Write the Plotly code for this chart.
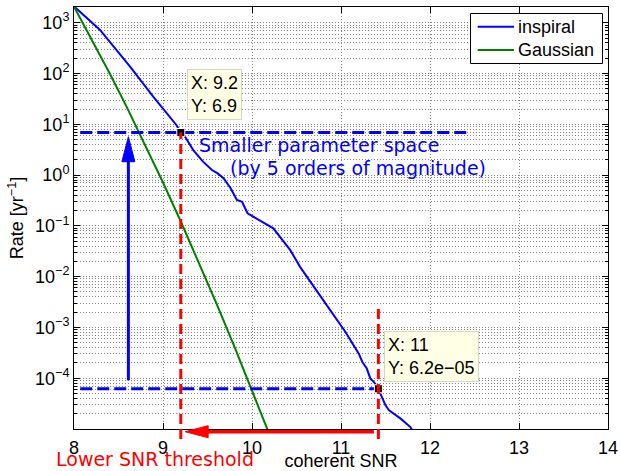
import math
import plotly.graph_objects as go

# ---- data -----------------------------------------------------------------
snr_inspiral = [8.00, 8.29, 8.63, 8.89, 9.15, 9.20, 9.25, 9.34, 9.45, 9.55,
                9.61, 9.68, 9.76, 9.83, 9.89, 9.90, 9.95, 10.24, 10.43, 10.54,
                10.80, 10.88, 11.05, 11.20, 11.24, 11.29, 11.33, 11.37, 11.42,
                11.46, 11.50, 11.54, 11.67, 11.78, 11.81]
rate_inspiral = [2100, 728, 137, 35.2, 9.7, 6.9, 5.6, 3.1, 1.84, 1.26,
                 1.09, 0.865, 0.55, 0.323, 0.299, 0.269, 0.177, 0.0893, 0.0333, 0.0156,
                 3.44e-3, 2.18e-3, 8.15e-4, 3.05e-4, 2.09e-4, 1.55e-4, 9.8e-5, 8.4e-5, 6.2e-5,
                 4.26e-5, 2.92e-5, 2.33e-5, 1.60e-5, 1.09e-5, 8.9e-6]

snr_gauss = [8.0, 8.2, 8.4, 8.6, 8.8, 9.0, 9.2, 9.4, 9.6, 9.8, 10.0, 10.2]
rate_gauss = [2070, 472, 101, 20.6, 3.94, 0.714, 0.122, 0.0197, 2.99e-3, 4.3e-4, 5.83e-5, 7.47e-6]

series_names = ["inspiral", "Gaussian"]

# data-tip points: (coherent SNR, rate)
tip_snr = [9.2, 11.42]
tip_rate = [6.9, 6.2e-5]

# tick labels
x_tick_vals = [8, 9, 10, 11, 12, 13, 14]
x_tick_text = ["8", "9", "10", "11", "12", "13", "14"]
y_tick_vals = [1e-4, 1e-3, 1e-2, 1e-1, 1e0, 1e1, 1e2, 1e3]
y_tick_text = ["10<sup>−4</sup>", "10<sup>−3</sup>", "10<sup>−2</sup>", "10<sup>−1</sup>",
               "10<sup>0</sup>", "10<sup>1</sup>", "10<sup>2</sup>", "10<sup>3</sup>"]

# guide lines / arrows
dash_start_snr = 8.07
upper_dash_end_snr = 12.41
up_arrow_snr = 8.611
up_arrow_tail = 9.1e-5
up_arrow_tip = 5.7
left_arrow_tail_snr = 11.37
left_arrow_tip_snr = 9.249
cut_top_rate = 2.4e-3

# ---- styling --------------------------------------------------------------
W, H = 620, 471
MARGIN = dict(l=74, r=12, t=7, b=42)
X_RANGE = [8, 14]
Y_RANGE = [-5, 3.31]
BLUE = "#0000ff"
GREEN = "#008000"
RED = "#ff0000"
HELV = "Liberation Sans, Arial, Helvetica, sans-serif"
DEJAVU = "DejaVu Sans, sans-serif"
GRID = "#858585"
series_colors = [BLUE, GREEN]

PLOT_W = W - MARGIN["l"] - MARGIN["r"]
PLOT_H = H - MARGIN["t"] - MARGIN["b"]
PX_X = (X_RANGE[1] - X_RANGE[0]) / PLOT_W   # data units of x per pixel
PX_P = 1.0 / PLOT_H                          # paper units of y per pixel


def to_paper(v):
    """Rate value -> paper fraction along the log y axis."""
    return (math.log10(v) - Y_RANGE[0]) / (Y_RANGE[1] - Y_RANGE[0])


def px_x(px):
    """Horizontal page pixel -> paper x."""
    return (px - MARGIN["l"]) / PLOT_W


def px_y(py):
    """Vertical page pixel (from top) -> paper y."""
    return (H - MARGIN["b"] - py) / PLOT_H


def tip_fmt(v):
    return f"{v:.2g}".replace("-", "−")


def head_path(tip_x, tip_y, direction, length_px, half_px):
    """Filled arrowhead triangle in (x data, y paper) coordinates."""
    if direction == "up":
        bx, by = tip_x, tip_y - length_px * PX_P
        return (f"M{tip_x},{tip_y} L{bx - half_px * PX_X},{by} "
                f"L{bx + half_px * PX_X},{by} Z")
    bx, by = tip_x + length_px * PX_X, tip_y
    return (f"M{tip_x},{tip_y} L{bx},{by - half_px * PX_P} "
            f"L{bx},{by + half_px * PX_P} Z")


fig = go.Figure()

fig.add_trace(go.Scatter(x=snr_inspiral, y=rate_inspiral, mode="lines",
                         name=series_names[0], line=dict(color=BLUE, width=2)))
fig.add_trace(go.Scatter(x=snr_gauss, y=rate_gauss, mode="lines",
                         name=series_names[1], line=dict(color=GREEN, width=2)))

# horizontal dashed levels through the two data tips
fig.add_trace(go.Scatter(x=[dash_start_snr, upper_dash_end_snr], y=[tip_rate[0], tip_rate[0]],
                         mode="lines", hoverinfo="skip",
                         line=dict(color=BLUE, width=3, dash="12px,5px")))
fig.add_trace(go.Scatter(x=[dash_start_snr, tip_snr[1]], y=[tip_rate[1], tip_rate[1]],
                         mode="lines", hoverinfo="skip",
                         line=dict(color=BLUE, width=3, dash="12px,5px")))

shapes = []

# upward blue arrow
up_tip_p = to_paper(up_arrow_tip)
shapes.append(dict(type="line", xref="x", yref="paper",
                   x0=up_arrow_snr, x1=up_arrow_snr,
                   y0=to_paper(up_arrow_tail), y1=up_tip_p - 22 * PX_P,
                   line=dict(color=BLUE, width=3)))
shapes.append(dict(type="path", xref="x", yref="paper",
                   path=head_path(up_arrow_snr, up_tip_p, "up", 25, 6.5),
                   fillcolor=BLUE, line=dict(color=BLUE, width=1)))

# leftward red arrow just below the axis
arrow_p = -2.7 * PX_P
shapes.append(dict(type="line", xref="x", yref="paper",
                   x0=left_arrow_tail_snr, x1=left_arrow_tip_snr + 20 * PX_X,
                   y0=arrow_p, y1=arrow_p, line=dict(color=RED, width=3.5)))
shapes.append(dict(type="path", xref="x", yref="paper",
                   path=head_path(left_arrow_tip_snr, arrow_p, "left", 23, 6),
                   fillcolor=RED, line=dict(color=RED, width=1)))

# red dashed verticals from the data tips down past the axis
red_bottom = -10 * PX_P
red_tops = [to_paper(tip_rate[0]), to_paper(cut_top_rate)]
for sx, y1 in zip(tip_snr, red_tops):
    shapes.append(dict(type="line", xref="x", yref="paper", x0=sx, x1=sx,
                       y0=red_bottom, y1=y1,
                       line=dict(color=RED, width=3, dash="10px,5px")))

# data-tip markers
fig.add_trace(go.Scatter(x=tip_snr, y=tip_rate, mode="markers", hoverinfo="skip",
                         marker=dict(symbol="square", size=8, color="black",
                                     line=dict(color="#ffffe6", width=1))))

annotations = []
for sx, rv, yshift in zip(tip_snr, tip_rate, [12, 7]):
    annotations.append(dict(
        x=sx, y=math.log10(rv), xref="x", yref="y",
        text=f"X: {tip_fmt(sx)}<br>Y: {tip_fmt(rv)}",
        showarrow=False, xanchor="left", yanchor="bottom", align="left",
        xshift=6, yshift=yshift, bgcolor="#ffffe6", bordercolor="#d6d6c4",
        borderwidth=1, borderpad=3, font=dict(family=HELV, size=18, color="black")))

annotations.append(dict(x=9.38, y=0.594, xref="x", yref="y", text="Smaller parameter space",
                        showarrow=False, xanchor="left", yanchor="middle",
                        font=dict(family=DEJAVU, size=19, color=BLUE)))
annotations.append(dict(x=9.729, y=0.140, xref="x", yref="y", text="(by 5 orders of magnitude)",
                        showarrow=False, xanchor="left", yanchor="middle",
                        font=dict(family=DEJAVU, size=19, color=BLUE)))
annotations.append(dict(x=8.908, y=px_y(459), xref="x", yref="paper", text="Lower SNR threshold",
                        showarrow=False, xanchor="center", yanchor="middle",
                        font=dict(family=DEJAVU, size=19, color=RED)))

# legend box drawn in paper coordinates
shapes.append(dict(type="rect", xref="paper", yref="paper",
                   x0=px_x(470.5), x1=px_x(602.5), y0=px_y(63.5), y1=px_y(13.5),
                   fillcolor="white", line=dict(color="black", width=1), layer="above"))
for name, color, row_y in zip(series_names, series_colors, [26.7, 50.0]):
    shapes.append(dict(type="line", xref="paper", yref="paper",
                       x0=px_x(477.7), x1=px_x(514), y0=px_y(row_y), y1=px_y(row_y),
                       line=dict(color=color, width=2), layer="above"))
    annotations.append(dict(x=px_x(516), y=px_y(row_y), xref="paper", yref="paper",
                            text=name, showarrow=False, xanchor="left", yanchor="middle",
                            font=dict(family=HELV, size=18, color="black")))

minor_vals = [m * 10 ** k for k in range(-5, 4) for m in range(2, 10)
              if math.log10(m * 10 ** k) <= Y_RANGE[1]]

fig.update_layout(
    width=W, height=H,
    margin=MARGIN,
    paper_bgcolor="white", plot_bgcolor="white",
    font=dict(family=HELV, size=18, color="black"),
    annotations=annotations,
    shapes=shapes,
    showlegend=False,
    xaxis=dict(range=X_RANGE, tickmode="array", tickvals=x_tick_vals, ticktext=x_tick_text,
               ticks="inside", ticklen=6, tickcolor="black", mirror="allticks",
               showline=True, linecolor="black", linewidth=1, zeroline=False,
               automargin=False, ticklabelstandoff=2,
               showgrid=True, gridcolor=GRID, griddash="1px,2px", gridwidth=1,
               title=dict(text="coherent SNR", standoff=0, font=dict(family=HELV, size=18))),
    yaxis=dict(type="log", range=Y_RANGE, tickmode="array", tickvals=y_tick_vals,
               ticktext=y_tick_text, ticks="inside", ticklen=6, tickcolor="black",
               mirror="allticks", showline=True, linecolor="black", linewidth=1,
               zeroline=False, automargin=False,
               showgrid=True, gridcolor=GRID, griddash="1px,2px", gridwidth=1,
               minor=dict(tickmode="array", tickvals=minor_vals, ticks="inside", ticklen=3,
                          tickcolor="black", showgrid=True, gridcolor=GRID,
                          griddash="1px,2px", gridwidth=1),
               title=dict(text="Rate [yr<sup>−1</sup>]", standoff=6,
                          font=dict(family=HELV, size=18))),
)

fig.write_html("out.html")
